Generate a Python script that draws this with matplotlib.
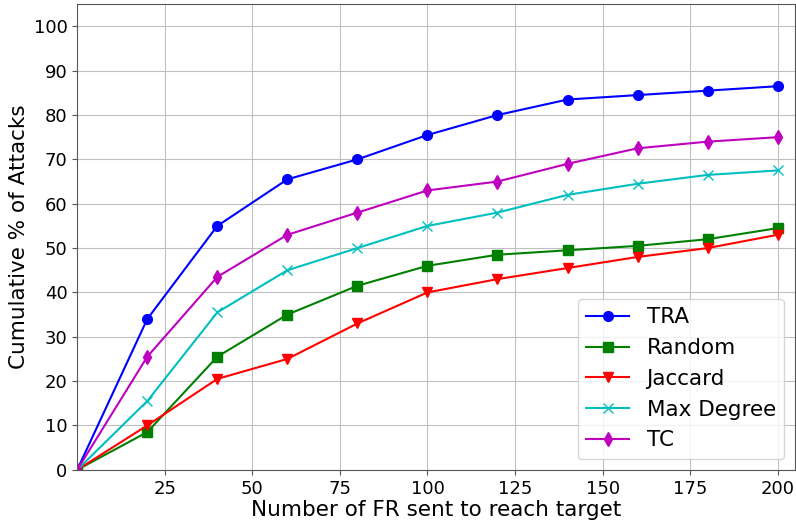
import matplotlib
matplotlib.use('Agg')
import matplotlib.pyplot as plt

x = [0, 20, 40, 60, 80, 100, 120, 140, 160, 180, 200]
tra = [0, 34, 55, 65.5, 70, 75.5, 80, 83.5, 84.5, 85.5, 86.5]
rand = [0, 8.5, 25.5, 35, 41.5, 46, 48.5, 49.5, 50.5, 52, 54.5]
jaccard = [0, 10, 20.5, 25, 33, 40, 43, 45.5, 48, 50, 53]
maxdeg = [0, 15.5, 35.5, 45, 50, 55, 58, 62, 64.5, 66.5, 67.5]
tc = [0, 25.5, 43.5, 53, 58, 63, 65, 69, 72.5, 74, 75]

fig, ax = plt.subplots(figsize=(7.96, 5.22), dpi=100)
ms = 7
ax.plot(x, tra, 'b-o', label='TRA', markersize=ms)
ax.plot(x, rand, 'g-s', label='Random', markersize=ms)
ax.plot(x, jaccard, 'r-v', label='Jaccard', markersize=ms)
ax.plot(x, maxdeg, 'c-x', label='Max Degree', markersize=ms)
ax.plot(x, tc, 'm-d', label='TC', markersize=ms)

ax.set_xlim(0, 205)
ax.set_ylim(0, 105)
ax.set_xticks([25, 50, 75, 100, 125, 150, 175, 200])
ax.set_yticks(range(0, 101, 10))
ax.tick_params(labelsize=13, color='#555555')
for s in ax.spines.values():
    s.set_color('#555555')
ax.grid(True, color='#c0c0c0', linewidth=0.8)
ax.set_xlabel('Number of FR sent to reach target', fontsize=15.5, labelpad=2)
ax.set_ylabel('Cumulative % of Attacks', fontsize=15.5, labelpad=3)
ax.legend(loc='lower right', fontsize=15.5)

fig.subplots_adjust(left=0.097, right=0.999, top=0.992, bottom=0.1)
fig.savefig('out.png')
